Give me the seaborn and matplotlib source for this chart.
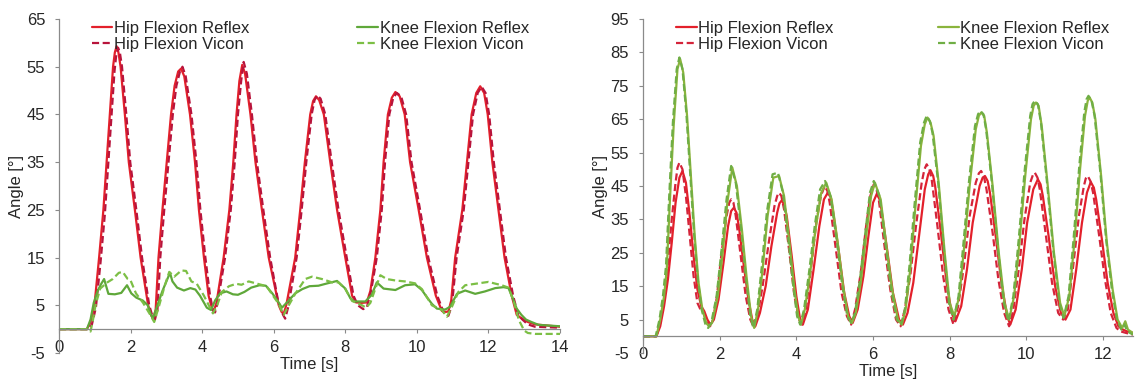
"""
Hip and knee flexion angles: Reflex sensor vs Vicon (two trials)
"""

import matplotlib
matplotlib.use('Agg')
import matplotlib.pyplot as plt
import seaborn as sns

sns.set_style('ticks')
plt.rcParams['font.family'] = ['Liberation Sans', 'DejaVu Sans']
plt.rcParams['axes.unicode_minus'] = False

# ---- left trial ----
left_hip_reflex_t = [0, 0.78, 0.88, 0.99, 1.12, 1.24, 1.33, 1.42, 1.51, 1.56, 1.61, 1.66, 1.72, 1.84, 1.95, 2.12, 2.28, 2.49, 2.58, 2.64, 2.7,
                     2.78, 2.89, 3.01, 3.13, 3.23, 3.33, 3.41, 3.5, 3.66, 3.8, 3.91, 4.05, 4.18, 4.28, 4.33, 4.4,
                     4.6, 4.76, 4.87, 4.96, 5.04, 5.12, 5.2, 5.35, 5.49, 5.67, 5.86, 6.14, 6.22, 6.28, 6.35,
                     6.6, 6.74, 6.87, 7.02, 7.1, 7.18, 7.27, 7.4, 7.58, 7.77, 8.0, 8.19, 8.3, 8.45, 8.6, 8.7,
                     8.84, 8.98, 9.07, 9.19, 9.3, 9.4, 9.52, 9.66, 9.81, 10.05, 10.28, 10.53, 10.7, 10.8, 10.88, 10.96,
                     11.07, 11.27, 11.4, 11.53, 11.66, 11.77, 11.88, 11.98, 12.11, 12.28, 12.45, 12.65, 12.79, 12.9, 13.1, 13.3, 14.0]
left_hip_reflex_y = [0, 0, 1.5, 5, 15, 25, 35, 45, 55, 58, 59.3, 58, 55, 45, 35, 25, 15, 5, 2.8, 2.4, 4,
                     15, 25, 35, 45, 51, 54, 54.6, 53, 45, 35, 25, 15, 7, 4.2, 3.9, 5.5,
                     15, 25, 35, 45, 52, 55.4, 53.5, 45, 35, 25, 15, 5, 3.6, 3.3, 5,
                     15, 25, 35, 45, 47.8, 48.8, 48, 45, 35, 25, 15, 7, 5.6, 5.5, 5.6, 8,
                     15, 25, 35, 45, 48.5, 49.7, 48.8, 45, 35, 25, 15, 7, 3.8, 3.6, 3.7, 6,
                     15, 25, 35, 45, 49.5, 50.9, 49.5, 45, 35, 25, 15, 7, 3, 2.4, 1.5, 1.0, 0.5]

left_hip_vicon_t = [0, 0.82, 0.92, 1.03, 1.16, 1.28, 1.37, 1.46, 1.55, 1.6, 1.65, 1.7, 1.76, 1.88, 1.99, 2.16, 2.32, 2.52, 2.62, 2.68, 2.75,
                    2.83, 2.94, 3.06, 3.18, 3.28, 3.38, 3.45, 3.54, 3.7, 3.84, 3.95, 4.09, 4.22, 4.31, 4.36, 4.43,
                    4.64, 4.8, 4.91, 5.0, 5.09, 5.16, 5.25, 5.39, 5.53, 5.71, 5.9, 6.12, 6.26, 6.32, 6.4,
                    6.64, 6.78, 6.91, 7.06, 7.14, 7.22, 7.31, 7.44, 7.62, 7.81, 8.04, 8.23, 8.35, 8.5, 8.6, 8.72,
                    8.88, 9.02, 9.11, 9.23, 9.34, 9.44, 9.56, 9.7, 9.85, 10.09, 10.32, 10.57, 10.75, 10.88, 10.98,
                    11.11, 11.31, 11.44, 11.57, 11.7, 11.81, 11.92, 12.02, 12.15, 12.32, 12.49, 12.69, 12.83, 12.95, 13.1, 13.3, 14.0]
left_hip_vicon_y = [0, 0, 1, 4.5, 14, 24, 34, 44, 54, 57.5, 59, 58, 55, 45, 35, 25, 15, 5, 2.5, 2, 4,
                    15, 25, 35, 45, 51, 54, 55, 53, 45, 35, 25, 15, 7, 3.8, 3.5, 5.5,
                    15, 25, 35, 45, 52, 56, 53.5, 45, 35, 25, 15, 6, 3, 2.2, 4.5,
                    15, 25, 35, 45, 48, 49, 48.3, 45, 35, 25, 15, 7, 5, 4.2, 4.5, 8,
                    15, 25, 35, 45, 48.5, 49.5, 48.8, 45, 35, 25, 15, 7, 3.5, 2.8, 5,
                    15, 25, 35, 45, 49.5, 50.8, 49.5, 45, 35, 25, 15, 7, 3, 2, 1, 0.5, 0.3]

left_knee_reflex_t = [0, 0.78, 0.88, 0.97, 1.08, 1.18, 1.26, 1.38, 1.56, 1.74, 1.9, 2.02, 2.16, 2.34, 2.48, 2.56, 2.62, 2.75, 2.89, 3.1,
                      3.17, 3.3, 3.49, 3.67, 3.81, 3.94, 4.13, 4.25, 4.36, 4.5, 4.68, 4.86, 5.0, 5.18, 5.37, 5.6, 5.78, 5.96,
                      6.1, 6.23, 6.42, 6.6, 6.8, 7.0, 7.25, 7.5, 7.77, 8.0, 8.14, 8.25, 8.56, 8.74, 8.88, 9.07, 9.4, 9.67,
                      9.95, 10.14, 10.28, 10.42, 10.56, 10.79, 10.93, 11.12, 11.35, 11.63, 11.9, 12.19, 12.42, 12.56, 12.65,
                      12.79, 12.92, 13.05, 13.2, 13.4, 14.0]
left_knee_reflex_y = [0, 0, 2, 5.5, 8, 9.5, 10.5, 7.4, 7.3, 7.6, 9.2, 7.5, 6.6, 6.0, 5.0, 3.2, 2.2, 5, 8, 11.8,
                      10, 8.7, 8.1, 8.6, 8.3, 7.0, 4.5, 4.0, 6.0, 7.5, 7.9, 7.3, 7.2, 7.8, 8.7, 9.2, 9.1, 7.5,
                      6.0, 4.5, 6.0, 7.5, 8.4, 9.0, 9.1, 9.6, 10.1, 8.5, 6.5, 5.8, 5.8, 7.2, 9.8, 8.5, 8.2, 9.2,
                      9.4, 8.2, 6.7, 5.3, 4.3, 4.1, 4.7, 7.4, 8.1, 7.4, 7.9, 8.6, 8.8, 8.6, 7.0,
                      4.3, 3.0, 2.0, 1.5, 0.9, 0.6]

left_knee_vicon_t = [0, 0.8, 0.88, 0.95, 1.02, 1.15, 1.35, 1.5, 1.67, 1.78, 1.92, 2.0, 2.15, 2.35, 2.55, 2.66, 2.8, 2.95, 3.08,
                     3.22, 3.42, 3.55, 3.7, 3.85, 4.05, 4.3, 4.42, 4.55, 4.75, 4.95, 5.1, 5.3, 5.55, 5.8, 5.98,
                     6.12, 6.28, 6.42, 6.6, 6.88, 7.07, 7.35, 7.63, 7.81, 8.0, 8.19, 8.47, 8.58, 8.7, 8.84, 8.98, 9.16,
                     9.4, 9.67, 9.95, 10.14, 10.42, 10.7, 10.84, 10.98, 11.16, 11.35, 11.72, 12.0, 12.37, 12.56,
                     12.7, 12.85, 13.0, 13.1, 13.3, 14.0]
left_knee_vicon_y = [0, 0, -0.5, 2, 5, 8.5, 9.8, 10.5, 11.8, 12.0, 10.5, 10.2, 7.5, 5.5, 3.0, 1.5, 5, 9, 12,
                     11, 12.3, 12.2, 10, 9.5, 7.0, 3.3, 5.0, 7.8, 9.0, 9.5, 9.3, 10.0, 9.5, 9.0, 7.0,
                     5.5, 3.0, 5.0, 7.4, 10.5, 11.0, 10.5, 9.8, 9.8, 8.4, 5.9, 5.0, 4.5, 5.5, 8.5, 11.3, 10.5,
                     10.2, 10.0, 9.6, 8.4, 5.0, 4.0, 2.6, 4.7, 7.8, 9.2, 9.6, 9.9, 9.2, 8.7,
                     6.0, 1.9, -0.3, -0.8, -1.0, -1.0]

# ---- right trial ----
right_hip_reflex_t = [0, 0.35, 0.45, 0.55, 0.65, 0.75, 0.85, 0.95, 1.03, 1.12, 1.22, 1.32, 1.42, 1.52, 1.6, 1.68, 1.76, 1.85,
                      1.97, 2.1, 2.22, 2.3, 2.37, 2.44, 2.5, 2.62, 2.75, 2.85, 2.93,
                      3.05, 3.2, 3.35, 3.5, 3.56, 3.62, 3.68, 3.75, 3.88, 4.0, 4.1, 4.17,
                      4.3, 4.45, 4.6, 4.72, 4.82, 4.9, 4.95, 5.1, 5.25, 5.38, 5.47,
                      5.6, 5.75, 5.88, 6.0, 6.1, 6.17, 6.22, 6.38, 6.52, 6.68, 6.78,
                      6.9, 7.05, 7.2, 7.35, 7.44, 7.5, 7.57, 7.62, 7.77, 7.92, 8.05, 8.15,
                      8.3, 8.45, 8.6, 8.78, 8.86, 8.92, 8.99, 9.05, 9.2, 9.35, 9.5, 9.58,
                      9.72, 9.88, 10.02, 10.18, 10.3, 10.37, 10.43, 10.58, 10.75, 10.9, 11.02,
                      11.15, 11.3, 11.45, 11.58, 11.68, 11.76, 11.82, 11.97, 12.12, 12.27, 12.4, 12.52, 12.62, 12.78]
right_hip_reflex_y = [0, 0, 3, 9, 17, 28, 40, 47.5, 49.5, 46, 36, 24, 14, 9, 7.5, 5, 3.5, 5,
                      11, 22, 33, 37.5, 38.5, 37, 33, 22, 11, 5, 3,
                      7, 15, 27, 37, 39.8, 40.7, 39.5, 36, 24, 12, 5, 3.5,
                      8, 20, 33, 41, 43, 41.5, 38, 26, 13, 6, 4,
                      8, 18, 30, 40, 42.7, 41, 38, 25, 13, 5, 3.5,
                      7, 16, 30, 44, 48.5, 49.7, 48, 45, 31, 16, 7, 4.5,
                      9, 20, 34, 45, 47.5, 48, 46.5, 43, 30, 16, 6, 3.5,
                      8, 20, 34, 44, 47, 45.5, 42, 30, 15, 7, 5,
                      8, 20, 34, 43, 46.2, 44.5, 41, 29, 16, 7, 3, 2, 1.5, 1]

right_hip_vicon_t = [0, 0.35, 0.45, 0.55, 0.65, 0.75, 0.85, 0.9, 0.95, 1.03, 1.12, 1.22, 1.32, 1.42, 1.5, 1.58, 1.67, 1.75, 1.83,
                     1.93, 2.05, 2.18, 2.25, 2.3, 2.36, 2.42, 2.55, 2.68, 2.8, 2.9,
                     3.0, 3.12, 3.28, 3.43, 3.5, 3.55, 3.61, 3.68, 3.82, 3.95, 4.07, 4.15,
                     4.25, 4.38, 4.52, 4.64, 4.74, 4.81, 4.87, 5.02, 5.18, 5.32, 5.43,
                     5.53, 5.68, 5.82, 5.93, 6.02, 6.09, 6.15, 6.3, 6.45, 6.6, 6.72,
                     6.83, 6.97, 7.12, 7.27, 7.34, 7.4, 7.47, 7.53, 7.68, 7.83, 7.97, 8.1,
                     8.22, 8.37, 8.52, 8.68, 8.76, 8.82, 8.89, 8.96, 9.12, 9.27, 9.42, 9.55,
                     9.66, 9.8, 9.95, 10.1, 10.17, 10.22, 10.29, 10.35, 10.5, 10.67, 10.83, 10.96,
                     11.08, 11.22, 11.37, 11.5, 11.55, 11.6, 11.67, 11.74, 11.9, 12.05, 12.2, 12.35, 12.45, 12.6, 12.78]
right_hip_vicon_y = [0, 0, 4, 11, 22, 35, 46, 50.5, 52, 50, 42, 30, 18, 10, 8, 7, 4, 3, 5,
                     12, 25, 36, 40, 41, 40, 36, 24, 12, 5, 2.5,
                     7, 15, 28, 39, 42, 43, 42, 38, 25, 12, 5, 3.5,
                     8, 20, 34, 42, 45, 43.5, 40, 27, 13, 6, 3.5,
                     8, 19, 33, 42, 45.5, 44, 41, 27, 14, 5, 3,
                     8, 18, 33, 46, 50, 51.5, 50, 47, 33, 18, 8, 3.5,
                     9, 21, 36, 46, 48.8, 49.5, 48, 44, 31, 17, 7, 3,
                     8, 20, 35, 46, 48.3, 49, 47.5, 44, 31, 16, 7, 5,
                     8, 21, 36, 45, 47.3, 48, 46.5, 43, 30, 17, 7, 2.5, 1.5, 1, 0.5]

right_knee_reflex_t = [0, 0.35, 0.45, 0.55, 0.62, 0.7, 0.8, 0.9, 0.97, 1.05, 1.15, 1.25, 1.35, 1.45, 1.55, 1.65, 1.72, 1.8,
                       1.95, 2.08, 2.2, 2.33, 2.45, 2.58, 2.7, 2.82, 2.9,
                       3.0, 3.12, 3.25, 3.4, 3.55, 3.68, 3.82, 3.95, 4.05, 4.12,
                       4.22, 4.35, 4.5, 4.65, 4.78, 4.92, 5.08, 5.22, 5.35, 5.45,
                       5.55, 5.68, 5.82, 5.95, 6.05, 6.2, 6.35, 6.5, 6.65, 6.75,
                       6.85, 6.97, 7.1, 7.25, 7.35, 7.42, 7.5, 7.58, 7.72, 7.87, 8.0, 8.12,
                       8.25, 8.38, 8.52, 8.68, 8.76, 8.82, 8.9, 8.97, 9.12, 9.28, 9.43, 9.55,
                       9.68, 9.82, 9.97, 10.12, 10.19, 10.25, 10.32, 10.4, 10.55, 10.72, 10.88, 10.99,
                       11.12, 11.25, 11.4, 11.53, 11.6, 11.65, 11.72, 11.8, 11.95, 12.1, 12.25, 12.38, 12.5, 12.58, 12.65, 12.78]
right_knee_reflex_y = [0, 0, 5, 12, 20, 40, 63, 80, 83, 79, 66, 48, 30, 16, 8, 4, 3, 4,
                       12, 25, 40, 50.5, 45, 32, 18, 6, 2.5,
                       8, 20, 36, 47.5, 48, 42, 28, 14, 6, 3.5,
                       8, 18, 32, 43, 46, 41, 28, 15, 6, 4,
                       7, 16, 30, 42, 46, 41, 27, 14, 5, 3.5,
                       8, 20, 38, 57, 63.5, 65.5, 64, 60, 45, 25, 10, 6,
                       12, 27, 45, 62, 66, 67, 66, 61, 45, 25, 10, 5,
                       12, 28, 48, 65, 69, 70, 69, 63, 46, 25, 10, 6,
                       12, 28, 50, 66, 70.5, 71.5, 70, 65, 48, 28, 14, 5, 2.5, 4.5, 2, 1]

right_knee_vicon_t = [0, 0.33, 0.43, 0.52, 0.6, 0.68, 0.78, 0.88, 0.95, 1.03, 1.13, 1.23, 1.33, 1.43, 1.53, 1.63, 1.7, 1.78,
                      1.92, 2.05, 2.18, 2.3, 2.42, 2.55, 2.68, 2.8, 2.88,
                      2.98, 3.1, 3.23, 3.38, 3.52, 3.65, 3.79, 3.92, 4.02, 4.1,
                      4.2, 4.33, 4.48, 4.62, 4.75, 4.89, 5.05, 5.2, 5.33, 5.43,
                      5.53, 5.66, 5.8, 5.92, 6.02, 6.17, 6.32, 6.47, 6.62, 6.73,
                      6.83, 6.95, 7.08, 7.23, 7.33, 7.4, 7.48, 7.55, 7.7, 7.85, 7.98, 8.1,
                      8.23, 8.36, 8.5, 8.66, 8.74, 8.8, 8.88, 8.95, 9.1, 9.26, 9.41, 9.53,
                      9.66, 9.8, 9.95, 10.1, 10.16, 10.22, 10.3, 10.38, 10.53, 10.7, 10.86, 10.97,
                      11.1, 11.23, 11.38, 11.51, 11.57, 11.62, 11.7, 11.78, 11.93, 12.08, 12.23, 12.36, 12.48, 12.56, 12.63, 12.78]
right_knee_vicon_y = [0, 0, 5, 12, 21, 41, 64, 80, 83.5, 80, 67, 49, 31, 17, 8, 3.5, 2.5, 4,
                      12, 26, 41, 51, 46, 33, 18, 6, 2.5,
                      8, 21, 37, 48.5, 49, 43, 29, 15, 6, 3.5,
                      8, 19, 33, 44, 46.5, 42, 29, 15, 6, 4,
                      7, 17, 31, 43, 46.5, 42, 28, 14, 5, 3.5,
                      8, 21, 39, 58, 64, 66, 64.5, 61, 46, 26, 10, 5,
                      12, 28, 46, 63, 66.5, 67.5, 66.5, 62, 46, 26, 10, 4.5,
                      12, 29, 49, 66, 69.5, 70.5, 69.5, 64, 47, 26, 10, 5.5,
                      12, 29, 51, 67, 71, 72, 70.5, 66, 49, 29, 14, 5, 2, 3.5, 1.5, 0.5]

legend_labels = ['Hip Flexion Reflex', 'Hip Flexion Vicon', 'Knee Flexion Reflex', 'Knee Flexion Vicon']

HIP_RED = '#e3202b'
HIP_DARK = '#b8143c'
DASH = (0, (3.2, 1.6))
AXIS_GREY = '#8a8a8a'
FS = 12


def draw_panel(ax, series, colors, xmax, ymax, legend_x):
    styles = ['-', DASH, '-', DASH]
    for (t, y), c, ls, lab in zip(series, colors, styles, legend_labels):
        sns.lineplot(x=t, y=y, ax=ax, color=c, linewidth=1.6, linestyle=ls,
                     estimator=None, sort=False, label=lab)
    if ax.get_legend() is not None:
        ax.get_legend().remove()

    ax.set_xlim(0, xmax)
    ax.set_ylim(-5, ymax)
    ax.set_yticks(range(-5, ymax + 1, 10))
    ax.set_xticks(range(0, int(xmax) + 1, 2))

    sns.despine(ax=ax)
    ax.spines['bottom'].set_position(('data', 0))
    for s in ['left', 'bottom']:
        ax.spines[s].set_color(AXIS_GREY)
        ax.spines[s].set_linewidth(0.9)
    ax.tick_params(axis='y', direction='out', length=3, width=0.8, color=AXIS_GREY,
                   labelsize=FS, pad=7)
    ax.tick_params(axis='x', direction='out', length=3, width=0.8, color=AXIS_GREY,
                   labelsize=FS, pad=5)

    ax.set_xlabel('Time [s]', fontsize=FS, labelpad=1)
    ax.set_ylabel('Angle [°]', fontsize=FS, labelpad=2)

    lines = ax.get_lines()
    kw = dict(loc='upper left', frameon=False, fontsize=FS, borderpad=0, borderaxespad=0,
              handlelength=1.25, handletextpad=0.1, labelspacing=0.08)
    leg1 = ax.legend(lines[:2], legend_labels[:2], bbox_to_anchor=(legend_x[0], 0.995), **kw)
    ax.add_artist(leg1)
    ax.legend(lines[2:4], legend_labels[2:], bbox_to_anchor=(legend_x[1], 0.995), **kw)


fig = plt.figure(figsize=(11.35, 3.81), dpi=100)
ax_left = fig.add_axes([0.052, 0.0735, 0.4414, 0.8766])
ax_right = fig.add_axes([0.5665, 0.0735, 0.4317, 0.8766])

draw_panel(ax_left,
           [(left_hip_reflex_t, left_hip_reflex_y), (left_hip_vicon_t, left_hip_vicon_y),
            (left_knee_reflex_t, left_knee_reflex_y), (left_knee_vicon_t, left_knee_vicon_y)],
           [HIP_RED, HIP_DARK, '#5fa83a', '#7cbf45'],
           xmax=14, ymax=65, legend_x=(0.065, 0.595))

draw_panel(ax_right,
           [(right_hip_reflex_t, right_hip_reflex_y), (right_hip_vicon_t, right_hip_vicon_y),
            (right_knee_reflex_t, right_knee_reflex_y), (right_knee_vicon_t, right_knee_vicon_y)],
           [HIP_RED, '#d4243a', '#8ab43c', '#6fae45'],
           xmax=12.78, ymax=95, legend_x=(0.067, 0.602))

fig.savefig('out.png', dpi=100, facecolor='white')
